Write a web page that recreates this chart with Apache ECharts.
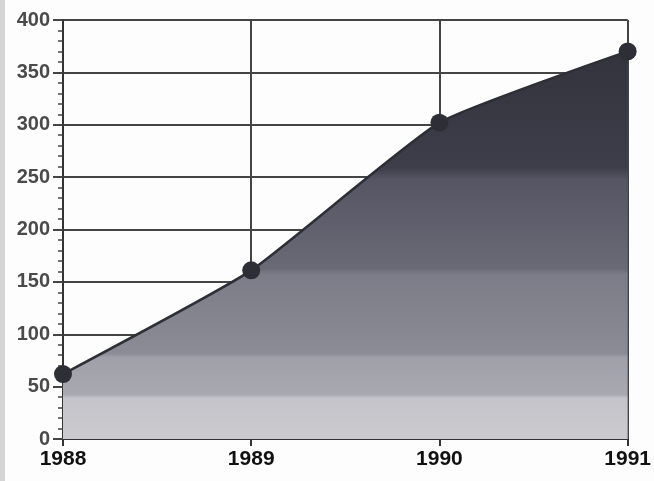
<!DOCTYPE html>
<html><head><meta charset="utf-8">
<script src="https://cdn.jsdelivr.net/npm/echarts@6/dist/echarts.min.js"></script>
<style>html,body{margin:0;padding:0;background:#fff}#c{width:654px;height:481px}</style>
</head><body><div id="c"></div>
<script>
const years = ['1988', '1989', '1990', '1991'];
const values = [62, 161, 302, 370];
const yTicks = [0, 50, 100, 150, 200, 250, 300, 350, 400];

const chart = echarts.init(document.getElementById('c'));
chart.setOption({
  backgroundColor: '#fdfdfd',
  animation: false,
  grid: { left: 63, right: 24, top: 20, bottom: 42 },
  xAxis: {
    type: 'category', data: years, boundaryGap: false,
    axisLine: { lineStyle: { color: '#333', width: 2 } },
    axisTick: { show: true, length: 7, lineStyle: { color: '#333', width: 2 } },
    axisLabel: { color: '#111', fontFamily: 'Liberation Sans, Arial', fontWeight: 'bold', fontSize: 21, margin: 10 },
    splitLine: { show: true, lineStyle: { color: '#444', width: 2 } }
  },
  yAxis: {
    type: 'value', min: yTicks[0], max: yTicks[yTicks.length - 1], interval: 50,
    axisLine: { show: true, lineStyle: { color: '#333', width: 2 } },
    axisTick: { show: true, length: 10, lineStyle: { color: '#444', width: 2 } },
    minorTick: { show: true, splitNumber: 5, length: 5, lineStyle: { color: '#444', width: 1.5 } },
    axisLabel: { color: '#4a4a4a', fontFamily: 'Liberation Sans, Arial', fontWeight: 'bold', fontSize: 20, margin: 13 },
    splitLine: { show: true, lineStyle: { color: '#444', width: 2 } }
  },
  series: [{
    type: 'line', data: values, smooth: 0.15,
    symbol: 'circle', symbolSize: 18,
    itemStyle: { color: '#2e2e36' },
    lineStyle: { color: '#2e2e36', width: 2.5 },
    areaStyle: {
      opacity: 1,
      color: {
        type: 'linear', x: 0, y: 0, x2: 0, y2: 1,
        colorStops: [
          { offset: 0, color: '#33333e' },
          { offset: 0.3, color: '#3e3e4a' },
          { offset: 0.33, color: '#555563' },
          { offset: 0.56, color: '#6a6a77' },
          { offset: 0.575, color: '#7c7c88' },
          { offset: 0.78, color: '#8c8c96' },
          { offset: 0.79, color: '#a0a0a9' },
          { offset: 0.885, color: '#a8a8b0' },
          { offset: 0.895, color: '#c4c4ca' },
          { offset: 1, color: '#cacacf' }
        ]
      }
    },
    z: 3
  }],
  graphic: [{ type: 'rect', shape: { x: 0, y: 0, width: 5, height: 481 }, style: { fill: '#d4d4d4' } }]
});
</script></body></html>
